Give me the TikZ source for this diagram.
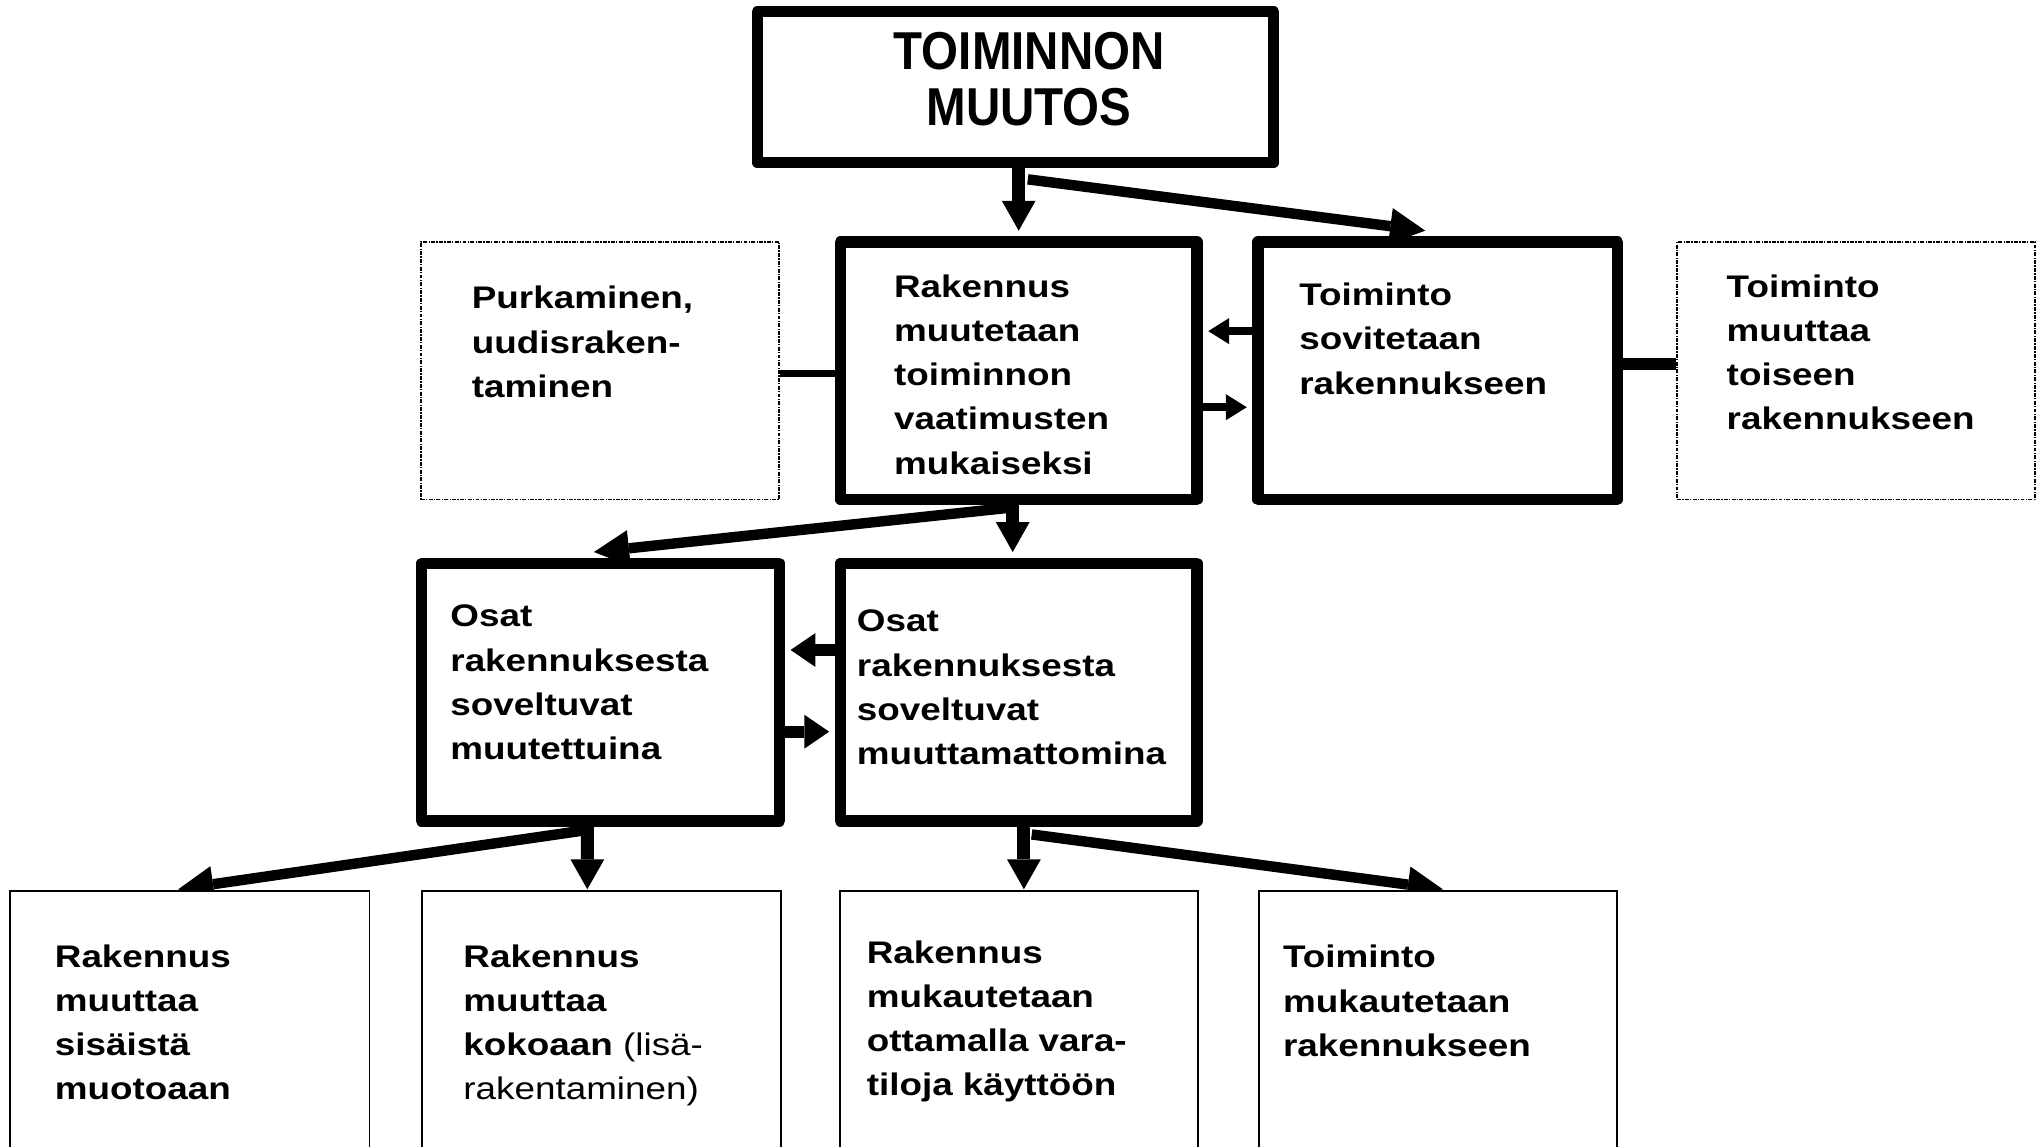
\documentclass[tikz,border=0pt]{standalone}
\usepackage{fontspec}
\setmainfont{Liberation Sans}
\newfontfamily\boxfont[FakeStretch=1.18]{Liberation Sans}
\newfontfamily\titlefont[FakeStretch=0.89]{Liberation Sans}
\usetikzlibrary{arrows.meta,calc}
\pgfdeclarelayer{background}
\pgfsetlayers{background,main}

\tikzset{
  thickbox/.style={draw, fill=white, line width=8.7pt, line join=round, inner sep=0pt},
  thinbox/.style={draw, fill=white, line width=1.5pt, inner sep=0pt},
  dotbox/.style={draw, fill=white, line width=1.3pt,
    dash pattern=on 3pt off 1pt on 1pt off 1pt, inner sep=0pt},
  boxtext/.style={anchor=north west, inner sep=0pt, align=left,
    font=\boxfont\bfseries\fontsize{24}{34}\selectfont},
  titletext/.style={anchor=north, inner sep=0pt, align=center,
    font=\titlefont\bfseries\fontsize{41}{43.5}\selectfont},
  varrow/.style={line width=10pt, -{Triangle[length=23pt,width=26pt,line width=0pt]}},
  darrow/.style={line width=8pt, -{Triangle[length=27pt,width=28pt,line width=0pt]}},
  harrow/.style={line width=9pt, -{Triangle[length=19pt,width=26pt,line width=0pt]}},
  sarrow/.style={line width=6pt, -{Triangle[length=16pt,width=20pt,line width=0pt]}},
}

\begin{document}
\begin{tikzpicture}[x=1pt, y=-1pt]
  \useasboundingbox (0,0) rectangle (1568,881);
  \clip (0,0) rectangle (1568,881);

  % boxes
  \node[thickbox, minimum width=397pt, minimum height=116pt] (top) at (780.5,67) {};
  \node[dotbox, minimum width=275.5pt, minimum height=198pt] (purk) at (461.25,285) {};
  \node[thickbox, minimum width=274pt, minimum height=198pt] (rak) at (783,285) {};
  \node[thickbox, minimum width=276pt, minimum height=198pt] (tois) at (1105,285) {};
  \node[dotbox, minimum width=275pt, minimum height=198pt] (muut) at (1426.5,285) {};
  \node[thickbox, minimum width=275pt, minimum height=198pt] (osmu) at (461.5,532) {};
  \node[thickbox, minimum width=274pt, minimum height=198pt] (osm) at (783,532) {};
  \node[thinbox, minimum width=276pt, minimum height=300pt] (b1) at (146,835) {};
  \node[thinbox, minimum width=276pt, minimum height=300pt] (b2) at (462,835) {};
  \node[thinbox, minimum width=275pt, minimum height=300pt] (b3) at (783.5,835) {};
  \node[thinbox, minimum width=275pt, minimum height=300pt] (b4) at (1105.5,835) {};

  % texts
  \node[titletext] (ttop) at (791,24.5) {TOIMINNON\\MUUTOS};
  \node[boxtext] (tpurk) at (362.5,219.8) {Purkaminen,\\uudisraken-\\taminen};
  \node[boxtext] (trak) at (687,210.8) {Rakennus\\muutetaan\\toiminnon\\vaatimusten\\mukaiseksi};
  \node[boxtext] (ttois) at (998.5,217.3) {Toiminto\\sovitetaan\\rakennukseen};
  \node[boxtext] (tmuut) at (1327,210.8) {Toiminto\\muuttaa\\toiseen\\rakennukseen};
  \node[boxtext] (tosmu) at (346,464.8) {Osat\\rakennuksesta\\soveltuvat\\muutettuina};
  \node[boxtext] (tosm) at (658.5,468.8) {Osat\\rakennuksesta\\soveltuvat\\muuttamattomina};
  \node[boxtext] (tb1) at (42,725.8) {Rakennus\\muuttaa\\sisäistä\\muotoaan};
  \node[boxtext] (tb2) at (356,725.8) {Rakennus\\muuttaa\\kokoaan {\mdseries (lisä-}\\{\mdseries rakentaminen)}};
  \node[boxtext] (tb3) at (666,722.8) {Rakennus\\mukautetaan\\ottamalla vara-\\tiloja käyttöön};
  \node[boxtext] (tb4) at (986,726.3) {Toiminto\\mukautetaan\\rakennukseen};

  % connectors, drawn beneath the boxes
  \begin{pgfonlayer}{background}
    \fill[white] (0,0) rectangle (1568,881);
    \draw[varrow] ($(top.south)+(2.5,0)$) -- ($(rak.north)+(0,-4.35)$);
    \draw[darrow] ($(top.south)+(9.5,8.5)$) -- ($(tois.north)+(-9.5,-4.35)$);
    \draw[line width=5.6pt] ($(purk.east)+(0,2)$) -- ($(rak.west)+(0,2)$);
    \draw[line width=9.5pt] ($(tois.east)+(0,-5)$) -- ($(muut.west)+(0,-5)$);
    \draw[sarrow] ($(tois.west)+(0,-30.5)$) -- ($(rak.east)+(4.35,-30.5)$);
    \draw[sarrow] ($(rak.east)+(0,28)$) -- ($(tois.west)+(-4.35,28)$);
    \draw[varrow] ($(rak.south)+(-4.6,0)$) -- ($(osm.north)+(-4.6,-4.35)$);
    \draw[darrow] ($(rak.south)+(-8,2)$) -- ($(osmu.north)+(-5,-4.35)$);
    \draw[harrow] ($(osm.west)+(0,-32.4)$) -- ($(osmu.east)+(4.35,-32.4)$);
    \draw[harrow] ($(osmu.east)+(0,30.4)$) -- ($(osm.west)+(-4.35,30.4)$);
    \draw[darrow] ($(osmu.south)+(-9.5,2.5)$) -- ($(b1.north)+(-9,-0.75)$);
    \draw[varrow] ($(osmu.south)+(-10,0)$) -- ($(b2.north)+(-10.6,-0.75)$);
    \draw[varrow] ($(osm.south)+(4,0)$) -- ($(b3.north)+(3.5,-0.75)$);
    \draw[darrow] ($(osm.south)+(10,6)$) -- ($(b4.north)+(3.5,-0.75)$);
  \end{pgfonlayer}
\end{tikzpicture}
\end{document}
